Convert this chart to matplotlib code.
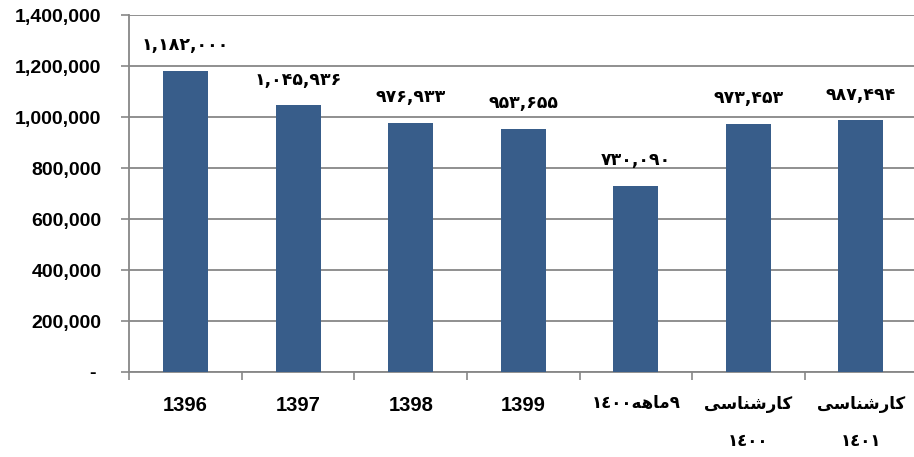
import matplotlib
matplotlib.use("Agg")
import matplotlib.pyplot as plt
from matplotlib.ticker import FixedLocator, FuncFormatter

plt.rcParams["font.family"] = ["Liberation Sans", "DejaVu Sans"]
plt.rcParams["font.weight"] = "bold"

# ---- data ----
categories = ["1396", "1397", "1398", "1399",
              "۹ماهه١٤٠٠", "کارشناسی\n١٤٠٠", "کارشناسی\n١٤٠١"]
values = [1182000, 1045936, 976933, 953655, 730090, 973453, 987494]
y_ticks = [0, 200000, 400000, 600000, 800000, 1000000, 1200000, 1400000]

BAR_COLOR = "#385D8A"
GRID_COLOR = "#878787"

# ---- minimal Persian shaping (visual order for matplotlib) ----
FORMS = {  # iso, fin, ini, med
    "ا": ("\uFE8D", "\uFE8E", None, None),
    "ر": ("\uFEAD", "\uFEAE", None, None),
    "ش": ("\uFEB5", "\uFEB6", "\uFEB7", "\uFEB8"),
    "ن": ("\uFEE5", "\uFEE6", "\uFEE7", "\uFEE8"),
    "س": ("\uFEB1", "\uFEB2", "\uFEB3", "\uFEB4"),
    "ی": ("\uFBFC", "\uFBFD", "\uFBFE", "\uFBFF"),
    "ک": ("\uFB8E", "\uFB8F", "\uFB90", "\uFB91"),
    "م": ("\uFEE1", "\uFEE2", "\uFEE3", "\uFEE4"),
    "ه": ("\uFEE9", "\uFEEA", "\uFEEB", "\uFEEC"),
}


def dual(c):
    return c in FORMS and FORMS[c][2] is not None


def shape_word(w):
    out = []
    for i, c in enumerate(w):
        if c not in FORMS:
            out.append(c)
            continue
        prev_join = i > 0 and dual(w[i - 1])
        next_join = i < len(w) - 1 and w[i + 1] in FORMS and dual(c)
        iso, fin, ini, med = FORMS[c]
        if prev_join and next_join:
            out.append(med)
        elif prev_join:
            out.append(fin)
        elif next_join:
            out.append(ini)
        else:
            out.append(iso)
    return "".join(reversed(out))


def visual(line):
    if not any(c in FORMS for c in line):
        return line
    runs, cur, cur_d = [], "", None
    for c in line:
        d = c.isdigit()
        if cur and d != cur_d:
            runs.append((cur, cur_d))
            cur = ""
        cur += c
        cur_d = d
    if cur:
        runs.append((cur, cur_d))
    parts = [r if d else shape_word(r) for r, d in runs]
    return "".join(reversed(parts))


def display(label):
    return "\n".join(visual(l) for l in label.split("\n"))


PERSIAN = str.maketrans("0123456789", "۰۱۲۳۴۵۶۷۸۹")


def fa_num(v):
    return f"{v:,}".translate(PERSIAN)


# ---- figure ----
fig = plt.figure(figsize=(9.14, 4.57), dpi=100)
ax = fig.add_axes([0.1415, 0.186, 0.862, 0.781])

x = list(range(len(values)))
ax.bar(x, values, width=0.4, color=BAR_COLOR, zorder=3)

ax.set_xlim(-0.5, len(values) - 0.5)
ax.set_ylim(0, 1400000)

ax.yaxis.set_major_locator(FixedLocator(y_ticks))
ax.yaxis.set_major_formatter(FuncFormatter(lambda v, p: "- " if v == 0 else f"{int(v):,}"))
ax.grid(axis="y", color=GRID_COLOR, linewidth=1.3, zorder=0)
ax.set_axisbelow(True)

# x ticks: marks at boundaries, labels at centers
ax.set_xticks([i - 0.5 for i in range(len(values) + 1)])
ax.set_xticklabels([""] * (len(values) + 1))
ax.set_xticks(x, minor=True)
labels = ax.set_xticklabels([display(c) for c in categories], minor=True,
                            fontweight="bold", fontsize=14.5, va="top")
for lab, c in zip(labels, categories):
    if not c.isdigit():
        lab.set_fontsize(12)
        lab.set_linespacing(2.8)
ax.tick_params(axis="x", which="minor", length=0, pad=17)
ax.tick_params(axis="x", which="major", length=6, width=1.2, color=GRID_COLOR)
ax.tick_params(axis="y", length=6, width=1.2, color=GRID_COLOR, pad=14,
               labelsize=14)

for s in ["top", "right"]:
    ax.spines[s].set_visible(False)
for s in ["left", "bottom"]:
    ax.spines[s].set_color(GRID_COLOR)
    ax.spines[s].set_linewidth(1.3)

for xi, v in zip(x, values):
    ax.annotate(fa_num(v), (xi, v), xytext=(0, 12), textcoords="offset points",
                ha="center", va="bottom", fontsize=12.5, fontweight="bold",
                fontfamily=["DejaVu Sans"], zorder=4)

fig.savefig("out.png", dpi=100)
